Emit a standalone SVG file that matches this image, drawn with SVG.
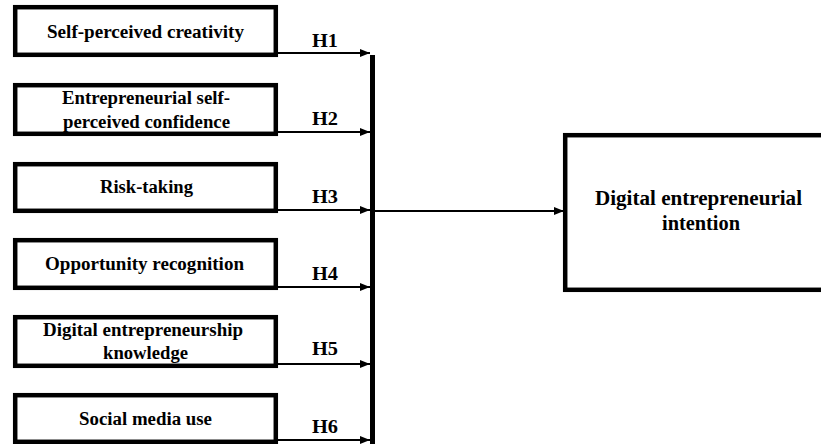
<svg xmlns="http://www.w3.org/2000/svg" width="821" height="444" viewBox="0 0 821 444">
<defs>
<marker id="ah" markerWidth="10" markerHeight="8" refX="10" refY="4" orient="auto" markerUnits="userSpaceOnUse">
<path d="M0,0 L10,4 L0,8 Z" fill="#000"/>
</marker>
<style>
.box{fill:#fff;stroke:#000;stroke-width:4.5}
.t{font-family:"Liberation Serif","Times New Roman",serif;font-weight:bold;font-size:18px;text-anchor:middle;fill:#000}
.h{font-family:"Liberation Serif","Times New Roman",serif;font-weight:bold;font-size:18px;text-anchor:middle;fill:#000}
.big{font-size:20px}
.c{stroke:#000;stroke-width:1.8;fill:none}
</style>
</defs>
<rect width="821" height="444" fill="#fff"/>
<g id="n1"><rect class="box" x="15.2" y="7.2" width="260.6" height="47.6"/><text class="t" x="145.5" y="38" textLength="197" lengthAdjust="spacingAndGlyphs">Self-perceived creativity</text></g>
<g id="n2"><rect class="box" x="15.2" y="85.2" width="260.6" height="48.6"/><text class="t" x="146" y="104" textLength="168" lengthAdjust="spacingAndGlyphs">Entrepreneurial self-</text><text class="t" x="146.5" y="128" textLength="167" lengthAdjust="spacingAndGlyphs">perceived confidence</text></g>
<g id="n3"><rect class="box" x="15.2" y="164.2" width="260.6" height="46.6"/><text class="t" x="146.5" y="193" textLength="93" lengthAdjust="spacingAndGlyphs">Risk-taking</text></g>
<g id="n4"><rect class="box" x="15.2" y="240.2" width="260.6" height="47.6"/><text class="t" x="144.5" y="270" textLength="199" lengthAdjust="spacingAndGlyphs">Opportunity recognition</text></g>
<g id="n5"><rect class="box" x="15.2" y="317.2" width="260.6" height="48.6"/><text class="t" x="143" y="336" textLength="200" lengthAdjust="spacingAndGlyphs">Digital entrepreneurship</text><text class="t" x="145.5" y="359" textLength="85" lengthAdjust="spacingAndGlyphs">knowledge</text></g>
<g id="n6"><rect class="box" x="15.2" y="395.2" width="260.6" height="46.6"/><text class="t" x="145.5" y="425" textLength="133" lengthAdjust="spacingAndGlyphs">Social media use</text></g>
<g id="n7"><rect class="box" x="565.2" y="135.2" width="270" height="154.6"/><text class="t big" x="698.5" y="205" textLength="207" lengthAdjust="spacingAndGlyphs">Digital entrepreneurial</text><text class="t big" x="701" y="230" textLength="78" lengthAdjust="spacingAndGlyphs">intention</text></g>
<g id="connectors">
<line x1="372.5" y1="55" x2="372.5" y2="446" stroke="#000" stroke-width="5"/>
<line class="c" x1="278" y1="53" x2="370" y2="53" marker-end="url(#ah)"/>
<line class="c" x1="278" y1="132" x2="370" y2="132" marker-end="url(#ah)"/>
<line class="c" x1="278" y1="210" x2="370" y2="210" marker-end="url(#ah)"/>
<line class="c" x1="278" y1="287" x2="370" y2="287" marker-end="url(#ah)"/>
<line class="c" x1="278" y1="364" x2="370" y2="364" marker-end="url(#ah)"/>
<line class="c" x1="278" y1="440" x2="370" y2="440" marker-end="url(#ah)"/>
<line class="c" x1="375" y1="211" x2="564" y2="211" marker-end="url(#ah)"/>
<text class="h" x="325" y="47" textLength="26" lengthAdjust="spacingAndGlyphs">H1</text>
<text class="h" x="325" y="125" textLength="26" lengthAdjust="spacingAndGlyphs">H2</text>
<text class="h" x="325" y="203" textLength="26" lengthAdjust="spacingAndGlyphs">H3</text>
<text class="h" x="325" y="280" textLength="26" lengthAdjust="spacingAndGlyphs">H4</text>
<text class="h" x="325" y="355" textLength="26" lengthAdjust="spacingAndGlyphs">H5</text>
<text class="h" x="325" y="433" textLength="26" lengthAdjust="spacingAndGlyphs">H6</text>
</g>
</svg>
